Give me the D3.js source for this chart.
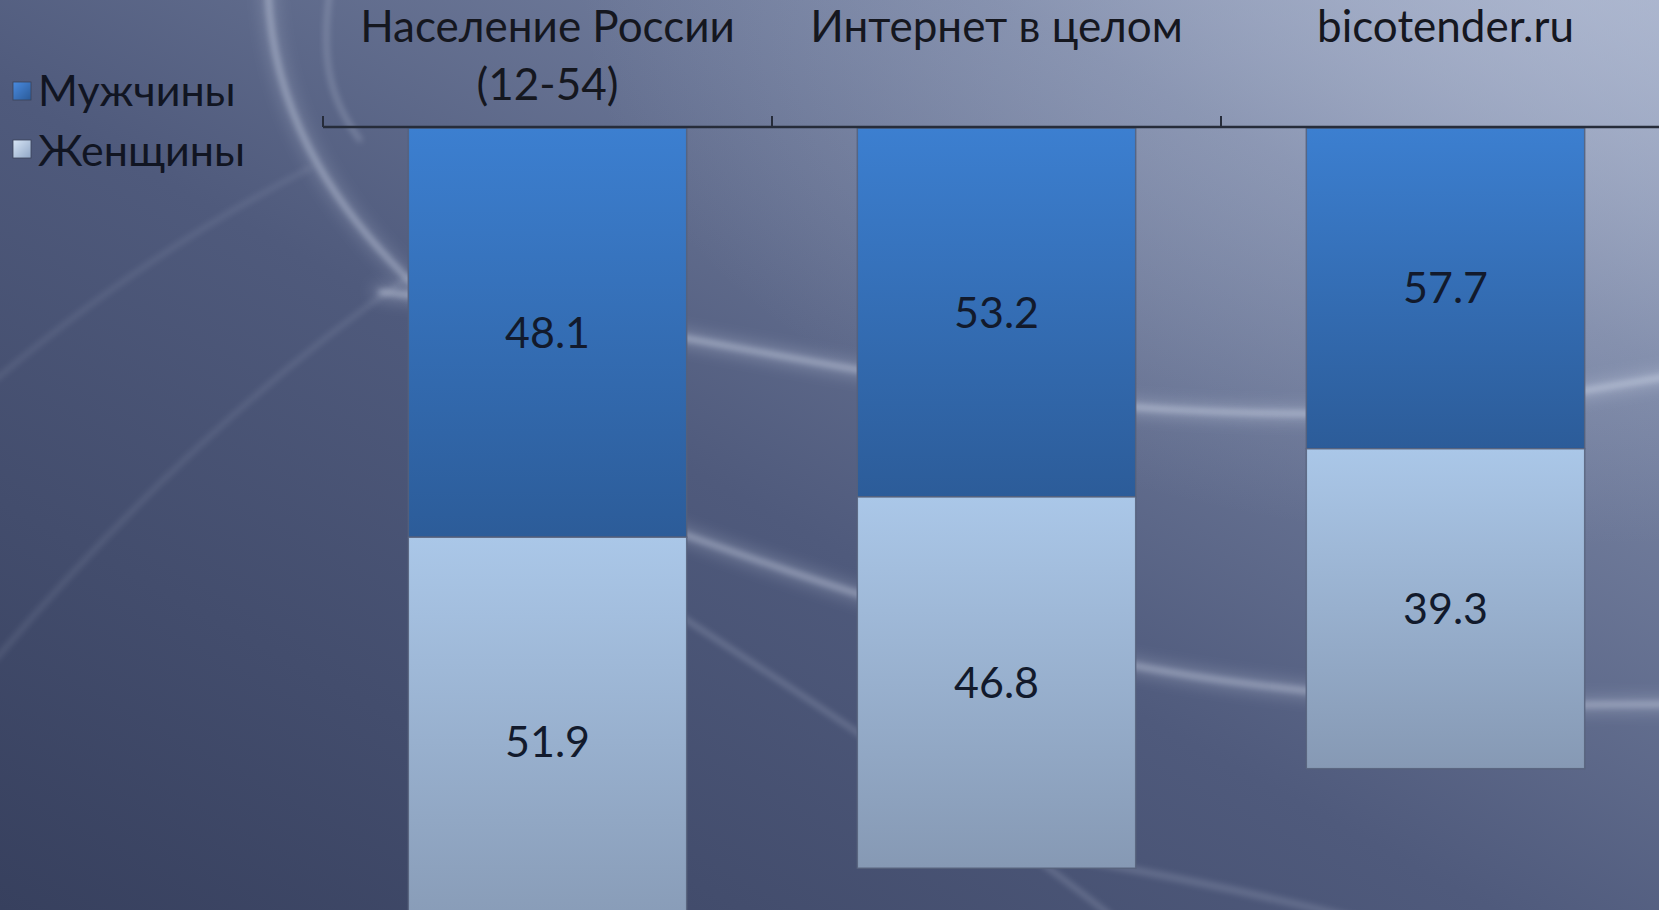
<!DOCTYPE html>
<html><head><meta charset="utf-8">
<script src="https://cdn.jsdelivr.net/npm/d3@7"></script>
<style>html,body{margin:0;padding:0;background:#4a5677;overflow:hidden}</style>
</head><body><svg id="c" width="1659" height="910"></svg>
<script>
// ---- data ----
const categories = ["Население России (12-54)", "Интернет в целом", "bicotender.ru"];
const seriesNames = ["Мужчины", "Женщины"];
// printed data labels
const menLabels = [48.1, 53.2, 57.7];
const womenLabels = [51.9, 46.8, 39.3];
// column segment lengths as actually drawn in the picture (they do not follow the printed labels)
const menPlotted = [51.8, 46.7, 40.6];
const womenPlotted = [51.8, 47.0, 40.5];
const yDomain = [0, 100];

// ---- build table ----
const table = categories.map((c, i) => ({
  cat: c, "Мужчины": menPlotted[i], "Женщины": womenPlotted[i],
  labels: {"Мужчины": menLabels[i], "Женщины": womenLabels[i]}
}));

const W = 1659, H = 910;
const svg = d3.select("#c");
const defs = svg.append("defs");

// background gradient
const bg = defs.append("linearGradient").attr("id", "bg").attr("x1", "0").attr("y1", "1").attr("x2", "1").attr("y2", "0");
bg.append("stop").attr("offset", "0").attr("stop-color", "#37405e");
bg.append("stop").attr("offset", "0.45").attr("stop-color", "#4f5a7c");
bg.append("stop").attr("offset", "0.8").attr("stop-color", "#7985a4");
bg.append("stop").attr("offset", "1").attr("stop-color", "#a3aec8");
const rg = defs.append("radialGradient").attr("id", "hl").attr("cx", "0.95").attr("cy", "0.0").attr("r", "0.6");
rg.append("stop").attr("offset", "0").attr("stop-color", "#b4bed5").attr("stop-opacity", 0.55);
rg.append("stop").attr("offset", "1").attr("stop-color", "#b4bed5").attr("stop-opacity", 0);
const blur = defs.append("filter").attr("id", "blur").attr("x", "-20%").attr("y", "-20%").attr("width", "140%").attr("height", "140%");
blur.append("feGaussianBlur").attr("stdDeviation", 3);
const blur2 = defs.append("filter").attr("id", "blur2").attr("x", "-20%").attr("y", "-20%").attr("width", "140%").attr("height", "140%");
blur2.append("feGaussianBlur").attr("stdDeviation", 8);

svg.append("rect").attr("width", W).attr("height", H).attr("fill", "url(#bg)");
svg.append("rect").attr("width", W).attr("height", H).attr("fill", "url(#hl)");

// decorative swooshes of the slide theme
const swoosh = svg.append("g").attr("fill", "none").attr("stroke", "#dfe6f5").attr("stroke-linecap", "round");
const swooshes = [
  {d: "M380,292 C650,318 900,395 1180,410 S1560,392 1720,368", w: 14, o: 0.28, f: "blur2"},
  {d: "M380,292 C650,318 900,395 1180,410 S1560,392 1720,368", w: 4, o: 0.55, f: "blur"},
  {d: "M560,490 C760,560 980,650 1250,684 S1560,700 1720,705", w: 14, o: 0.25, f: "blur2"},
  {d: "M560,490 C760,560 980,650 1250,684 S1560,700 1720,705", w: 4, o: 0.5, f: "blur"},
  {d: "M640,590 C780,680 950,790 1110,915", w: 4, o: 0.28, f: "blur"},
  {d: "M268,-10 C272,100 320,200 430,300", w: 16, o: 0.18, f: "blur2"},
  {d: "M268,-10 C272,100 320,200 430,300", w: 5, o: 0.45, f: "blur"},
  {d: "M330,-10 C320,60 330,100 360,140", w: 4, o: 0.3, f: "blur"},
  {d: "M-5,380 Q150,250 310,168", w: 3, o: 0.18, f: "blur"},
  {d: "M-5,660 Q200,420 410,276", w: 3, o: 0.2, f: "blur"},
  {d: "M1080,860 Q1250,890 1400,930", w: 6, o: 0.2, f: "blur"}
];
swoosh.selectAll("path").data(swooshes).join("path")
  .attr("d", d => d.d).attr("stroke-width", d => d.w).attr("opacity", d => d.o)
  .attr("filter", d => `url(#${d.f})`);

// bar gradients
function vGrad(id, top, bottom) {
  const g = defs.append("linearGradient").attr("id", id).attr("x1", 0).attr("y1", 0).attr("x2", 0).attr("y2", 1);
  g.append("stop").attr("offset", 0).attr("stop-color", top);
  g.append("stop").attr("offset", 1).attr("stop-color", bottom);
}
vGrad("gMen", "#3c7fd0", "#2c5c99");
vGrad("gWomen", "#aac7e8", "#8699b4");
const lg1 = defs.append("linearGradient").attr("id", "lMen").attr("x1", 0).attr("y1", 0).attr("x2", 1).attr("y2", 1);
lg1.append("stop").attr("offset", 0).attr("stop-color", "#4a8be0"); lg1.append("stop").attr("offset", 1).attr("stop-color", "#2a5a98");
const lg2 = defs.append("linearGradient").attr("id", "lWomen").attr("x1", 0).attr("y1", 0).attr("x2", 1).attr("y2", 1);
lg2.append("stop").attr("offset", 0).attr("stop-color", "#d8e6f6"); lg2.append("stop").attr("offset", 1).attr("stop-color", "#90a6c6");
const fills = {"Мужчины": "url(#gMen)", "Женщины": "url(#gWomen)"};
const legendFills = {"Мужчины": "url(#lMen)", "Женщины": "url(#lWomen)"};

// scales
const x = d3.scaleBand().domain(categories).range([323, 1670]).paddingInner(0.38).paddingOuter(0.19);
const y = d3.scaleLinear().domain(yDomain).range([128, 918]);

const stack = d3.stack().keys(seriesNames)(table);

const font = "Lato, 'Open Sans', sans-serif";

const gBars = svg.append("g");
stack.forEach(layer => {
  const key = layer.key;
  gBars.append("g").selectAll("rect").data(layer).join("rect")
    .attr("x", d => x(d.data.cat))
    .attr("width", x.bandwidth())
    .attr("y", d => y(d[0]))
    .attr("height", d => y(d[1]) - y(d[0]))
    .attr("fill", fills[key])
    .attr("stroke", "#56607a").attr("stroke-width", 1.5).attr("stroke-opacity", 0.85);
});
// data labels
stack.forEach(layer => {
  const key = layer.key;
  gBars.append("g").selectAll("text").data(layer).join("text")
    .attr("x", d => x(d.data.cat) + x.bandwidth() / 2)
    .attr("y", d => (y(d[0]) + y(d[1])) / 2)
    .attr("dy", "0.35em")
    .attr("text-anchor", "middle")
    .attr("font-family", font).attr("font-size", 43)
    .attr("fill", "#121a2c")
    .text(d => d.data.labels[key].toFixed(1));
});

// category axis on top (ticks between categories)
const gAxis = svg.append("g");
const step = x.step();
const bounds = categories.map(c => x(c) - (step - x.bandwidth()) / 2).concat([x.range()[1]]);
gAxis.append("line").attr("x1", x.range()[0]).attr("x2", x.range()[1]).attr("y1", y(0) - 1).attr("y2", y(0) - 1)
  .attr("stroke", "#262c3a").attr("stroke-width", 2.5);
gAxis.selectAll("line.tick").data(bounds).join("line").attr("class", "tick")
  .attr("x1", d => d).attr("x2", d => d).attr("y1", y(0) - 1).attr("y2", y(0) - 12)
  .attr("stroke", "#262c3a").attr("stroke-width", 2);

const catSize = 44;
function wrapLines(text, maxW, size) {
  const ctx = document.createElement("canvas").getContext("2d");
  ctx.font = `${size}px Lato`;
  const words = text.split(" "); const lines = []; let cur = "";
  words.forEach(w => {
    const t = cur ? cur + " " + w : w;
    if (ctx.measureText(t).width > maxW && cur) { lines.push(cur); cur = w; } else cur = t;
  });
  lines.push(cur); return lines;
}
categories.forEach(c => {
  const lines = wrapLines(c, step * 0.95, catSize);
  const t = gAxis.append("text").attr("text-anchor", "middle")
    .attr("font-family", font).attr("font-size", catSize).attr("fill", "#15171f");
  lines.forEach((l, i) => t.append("tspan").attr("x", x(c) + x.bandwidth() / 2).attr("y", 42 + i * 58).text(l));
});

// legend
const gLeg = svg.append("g");
seriesNames.forEach((s, i) => {
  gLeg.append("rect").attr("x", 13).attr("y", 82 + i * 58).attr("width", 18).attr("height", 18)
    .attr("fill", legendFills[s]).attr("stroke", "#3a4258").attr("stroke-width", 0.8);
  gLeg.append("text").attr("x", 38).attr("y", 106 + i * 60)
    .attr("font-family", font).attr("font-size", 43).attr("fill", "#111522").text(s);
});
</script></body></html>
